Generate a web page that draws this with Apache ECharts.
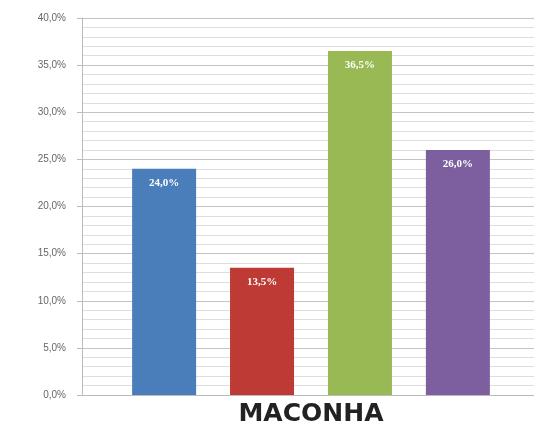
<!DOCTYPE html>
<html>
<head>
<meta charset="utf-8">
<script src="https://cdn.jsdelivr.net/npm/echarts@6/dist/echarts.min.js"></script>
<style>
html,body{margin:0;padding:0;background:#fff;overflow:hidden;}
#main{width:540px;height:430px;}
</style>
</head>
<body>
<div id="main"></div>
<script>
// dados
var categorias = ['MACONHA'];
var azul = [24.0];
var vermelho = [13.5];
var verde = [36.5];
var roxo = [26.0];
var cores = ['#4a7ebb', '#be3a34', '#98b954', '#7d5fa0'];

function pct(v){
	return v.toFixed(1).replace('.', ',') + '%';
}

function serie(dados, cor){
	return {
		type: 'bar',
		data: dados,
		barWidth: 64,
		barGap: '53%',
		itemStyle: { color: cor },
		label: {
			show: true,
			position: 'insideTop',
			distance: 9,
			color: '#fff',
			fontFamily: 'Liberation Serif',
			fontWeight: 'bold',
			fontSize: 11,
			formatter: function (p) { return pct(p.value); }
		}
	};
}

var myChart = echarts.init(document.getElementById('main'));

var option = {
	animation: false,
	grid: { left: 82, right: 0, top: 18, bottom: 35 },
	xAxis: {
		type: 'category',
		data: categorias,
		axisLine: { lineStyle: { color: '#bbb' } },
		axisTick: { show: false },
		axisLabel: {
			color: '#222',
			fontFamily: 'DejaVu Sans',
			fontWeight: 'bold',
			fontSize: 25,
			margin: 7
		}
	},
	yAxis: {
		type: 'value',
		min: 0,
		max: 40,
		interval: 5,
		axisLine: { show: true, lineStyle: { color: '#bbb' } },
		axisTick: { show: true, length: 5, lineStyle: { color: '#bbb' } },
		axisLabel: {
			color: '#666',
			fontFamily: 'Liberation Sans',
			fontSize: 10,
			margin: 16,
			formatter: function (v) { return pct(v); }
		},
		splitLine: { lineStyle: { color: '#c4c4c4' } },
		minorTick: { show: false, splitNumber: 5 },
		minorSplitLine: { show: true, lineStyle: { color: '#dedede' } }
	},
	series: [
		serie(azul, cores[0]),
		serie(vermelho, cores[1]),
		serie(verde, cores[2]),
		serie(roxo, cores[3])
	]
};

myChart.setOption(option);
</script>
</body>
</html>
